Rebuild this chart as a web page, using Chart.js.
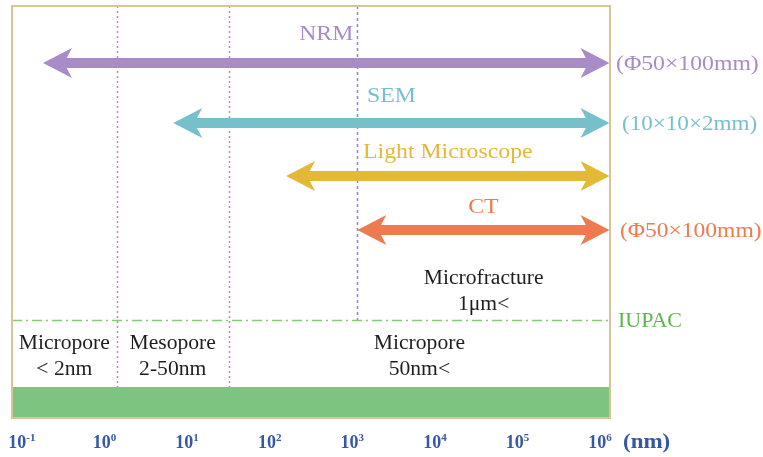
<!DOCTYPE html>
<html>
<head>
<meta charset="utf-8">
<script src="https://cdn.jsdelivr.net/npm/chart.js@4/dist/chart.umd.min.js"></script>
<style>
  html, body { margin: 0; padding: 0; background: #fff; }
  #wrap { width: 763px; height: 457px; position: relative; }
</style>
</head>
<body>
<div id="wrap"><canvas id="c"></canvas></div>
<script>
// Observation ranges (nm) of each imaging method
const methods = ['NRM', 'SEM', 'Light Microscope', 'CT'];
const rangeStart = [0.18, 6.8, 158, 1150];
const rangeEnd = [1.3e6, 1.3e6, 1.3e6, 1.3e6];
const sampleSizes = ['(Φ50×100mm)', '(10×10×2mm)', '', '(Φ50×100mm)'];

// Pore classification boundaries (nm) and class labels
const poreBounds = [1.4, 32];
const fractureBound = 1150;
const poreClasses = [['Micropore', '< 2nm'], ['Mesopore', '2-50nm'], ['Micropore', '50nm<']];
const fractureLabel = ['Microfracture', '1μm<'];

// Axis: decades shown as 10^n
const tickExponents = [-1, 0, 1, 2, 3, 4, 5, 6];
const axisUnit = '(nm)';

// ---- styling / layout ----
const colors = ['#a98bc7', '#76c0cc', '#e3b935', '#ee7b50'];
const rowY = [57, 117, 170, 224];          // y-scale rows of the arrows
const labelY = [28, 90, 146, 201];          // y-scale rows of the method names
const sizeX = [6, 12, 0, 10];               // offset of the sample-size notes from the frame
const sizeStretch = [1.13, 1.1, 1, 1.12];
const iupacY = 314;
const barTop = 381;
const serif = '"Liberation Serif", "DejaVu Serif", serif';

// text with a slight horizontal stretch (wide serif face)
function stretchText(ctx, str, x, y, font, align, sx) {
  ctx.save();
  ctx.font = font;
  ctx.textAlign = align;
  ctx.translate(x, y);
  ctx.scale(sx, 1);
  ctx.fillText(str, 0, 0);
  ctx.restore();
}

function arrowHead(ctx, tipX, y, dir, color) {
  // dir = -1 points left, +1 points right
  const len = 29, half = 15, notch = 8;
  ctx.fillStyle = color;
  ctx.beginPath();
  ctx.moveTo(tipX, y);
  ctx.lineTo(tipX - dir * len, y - half);
  ctx.lineTo(tipX - dir * (len - notch), y);
  ctx.lineTo(tipX - dir * len, y + half);
  ctx.closePath();
  ctx.fill();
}

const diagramPlugin = {
  id: 'diagram',
  beforeDatasetsDraw(chart) {
    const { ctx, chartArea: a, scales: { x, y } } = chart;
    ctx.save();

    // green base band
    ctx.fillStyle = '#7cc47f';
    const bt = y.getPixelForValue(barTop);
    ctx.fillRect(a.left, bt, a.right - a.left, a.bottom - bt);

    // pore boundary lines
    ctx.lineWidth = 1.5;
    ctx.strokeStyle = '#d27ad4';
    ctx.setLineDash([2, 3]);
    poreBounds.forEach(v => {
      const px = Math.round(x.getPixelForValue(v)) + 0.5;
      ctx.beginPath();
      ctx.moveTo(px, a.top);
      ctx.lineTo(px, bt);
      ctx.stroke();
    });
    // microfracture boundary
    ctx.strokeStyle = '#8f84d8';
    ctx.setLineDash([3, 3]);
    const fx = Math.round(x.getPixelForValue(fractureBound)) + 0.5;
    ctx.beginPath();
    ctx.moveTo(fx, a.top);
    ctx.lineTo(fx, y.getPixelForValue(iupacY));
    ctx.stroke();

    // IUPAC dash-dot line
    ctx.strokeStyle = '#80d06e';
    ctx.lineWidth = 1.6;
    ctx.setLineDash([10, 4, 2, 4]);
    const iy = Math.round(y.getPixelForValue(iupacY)) + 0.5;
    ctx.beginPath();
    ctx.moveTo(a.left, iy);
    ctx.lineTo(a.right, iy);
    ctx.stroke();
    ctx.setLineDash([]);
    ctx.restore();
  },
  afterDatasetsDraw(chart) {
    const { ctx, chartArea: a, scales: { x, y } } = chart;
    ctx.save();
    ctx.textBaseline = 'middle';

    // double-headed range arrows
    chart.data.datasets.forEach((ds, i) => {
      const x0 = x.getPixelForValue(ds.data[0].x);
      const x1 = x.getPixelForValue(ds.data[1].x);
      const py = y.getPixelForValue(ds.data[0].y);
      ctx.fillStyle = colors[i];
      ctx.fillRect(x0 + 20, py - 5, (x1 - 20) - (x0 + 20), 10);
      arrowHead(ctx, x0, py, -1, colors[i]);
      arrowHead(ctx, x1, py, 1, colors[i]);

      stretchText(ctx, methods[i], (x0 + x1) / 2, y.getPixelForValue(labelY[i]),
        '22px ' + serif, 'center', 1.08);
      if (sampleSizes[i]) {
        stretchText(ctx, sampleSizes[i], a.right + sizeX[i], py + 1,
          '21px ' + serif, 'left', sizeStretch[i]);
      }
    });

    // plot frame
    ctx.strokeStyle = '#d8c596';
    ctx.lineWidth = 2;
    ctx.strokeRect(a.left, a.top, a.right - a.left, a.bottom - a.top);

    // IUPAC label
    ctx.fillStyle = '#5cb84a';
    stretchText(ctx, 'IUPAC', a.right + 8, y.getPixelForValue(iupacY) + 2,
      '20px ' + serif, 'left', 1.1);

    // pore class labels, centred in each region
    const edges = [a.left, ...poreBounds.map(v => x.getPixelForValue(v)), a.right];
    ctx.fillStyle = '#1e1e1e';
    const blackFont = '20px ' + serif;
    poreClasses.forEach((lines, k) => {
      const cx = (edges[k] + edges[k + 1]) / 2;
      stretchText(ctx, lines[0], cx, y.getPixelForValue(338), blackFont, 'center', 1.08);
      stretchText(ctx, lines[1], cx, y.getPixelForValue(364), blackFont, 'center', 1.08);
    });
    // microfracture label
    const mcx = (x.getPixelForValue(fractureBound) + a.right) / 2;
    stretchText(ctx, fractureLabel[0], mcx, y.getPixelForValue(273), blackFont, 'center', 1.08);
    stretchText(ctx, fractureLabel[1], mcx, y.getPixelForValue(299), blackFont, 'center', 1.08);

    // decade tick labels 10^n
    ctx.fillStyle = '#3557a5';
    ctx.textAlign = 'left';
    ctx.textBaseline = 'alphabetic';
    const base = 448;
    tickExponents.forEach(n => {
      const px = x.getPixelForValue(Math.pow(10, n));
      ctx.font = 'bold 18px ' + serif;
      const w1 = ctx.measureText('10').width;
      ctx.font = 'bold 11px ' + serif;
      const sup = n < 0 ? '-' + Math.abs(n) : String(n);
      const w2 = ctx.measureText(sup).width;
      const sx = px - (w1 + w2) / 2;
      ctx.font = 'bold 18px ' + serif;
      ctx.fillText('10', sx, base);
      ctx.font = 'bold 11px ' + serif;
      ctx.fillText(sup, sx + w1, base - 7);
    });
    stretchText(ctx, axisUnit, a.right + 13, base, 'bold 20px ' + serif, 'left', 1.15);
    ctx.restore();
  }
};

const datasets = methods.map((m, i) => ({
  label: m,
  data: [{ x: rangeStart[i], y: rowY[i] }, { x: rangeEnd[i], y: rowY[i] }],
  showLine: false,
  pointRadius: 0
}));

new Chart(document.getElementById('c'), {
  type: 'scatter',
  data: { datasets },
  options: {
    responsive: true,
    maintainAspectRatio: false,
    animation: false,
    layout: { padding: { left: 12, top: 6, right: 153, bottom: 39 } },
    plugins: { legend: { display: false }, tooltip: { enabled: false } },
    scales: {
      x: { type: 'logarithmic', min: Math.pow(10, -1.12), max: Math.pow(10, 6.12), display: false },
      y: { type: 'linear', min: 0, max: 412, reverse: true, display: false }
    }
  },
  plugins: [diagramPlugin]
});
</script>
</body>
</html>
